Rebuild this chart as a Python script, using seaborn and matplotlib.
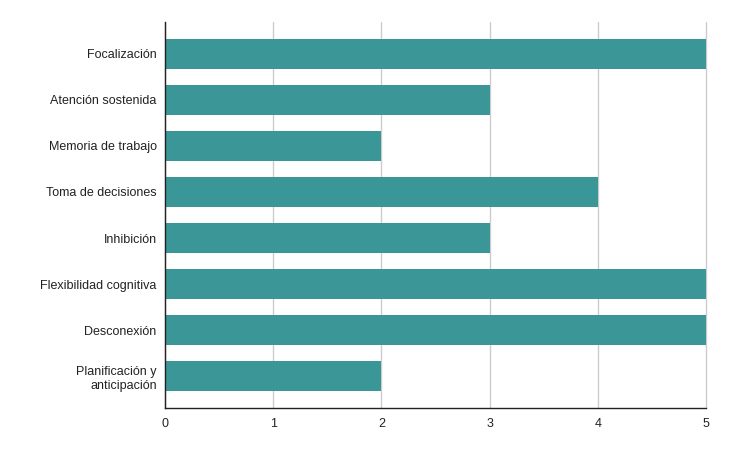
import matplotlib
matplotlib.use("Agg")
import matplotlib.pyplot as plt
import seaborn as sns
import pandas as pd

categories = ["Focalización", "Atención sostenida", "Memoria de trabajo",
              "Toma de decisiones", "Inhibición", "Flexibilidad cognitiva",
              "Desconexión", "Planificación y\nanticipación"]
values = [5, 3, 2, 4, 3, 5, 5, 2]
xticks = [0, 1, 2, 3, 4, 5]

sns.set_style("white")
plt.rcParams['font.family'] = ['Liberation Sans', 'DejaVu Sans']

df = pd.DataFrame({"cat": categories, "val": values})

fig = plt.figure(figsize=(7.29, 4.51), dpi=100)
ax = fig.add_axes([165/729, 1-408/451, (706-165)/729, (408-22)/451])
sns.barplot(data=df, x="val", y="cat", color="#3b9797", saturation=1,
            width=0.65, ax=ax, orient="h", linewidth=0)

ax.set_xlim(0, 5)
ax.set_ylim(7.69, -0.69)
ax.set_xticks(xticks)
ax.set_xticklabels([str(t) for t in xticks])
ax.xaxis.grid(True, color="#cccccc", linewidth=1)
for gl in ax.get_xgridlines():
    gl.set_clip_on(False)
ax.set_axisbelow(True)
ax.set_xlabel("")
ax.set_ylabel("")
for s in ["top", "right"]:
    ax.spines[s].set_visible(False)
for s in ["left", "bottom"]:
    ax.spines[s].set_color("#222222")
    ax.spines[s].set_linewidth(1)
ax.tick_params(axis="both", length=0, labelsize=9, colors="#222222", pad=6)
ax.tick_params(axis="x", pad=7)
for lab in ax.get_yticklabels():
    lab.set_horizontalalignment("right")

fig.savefig("out.png", dpi=100)
